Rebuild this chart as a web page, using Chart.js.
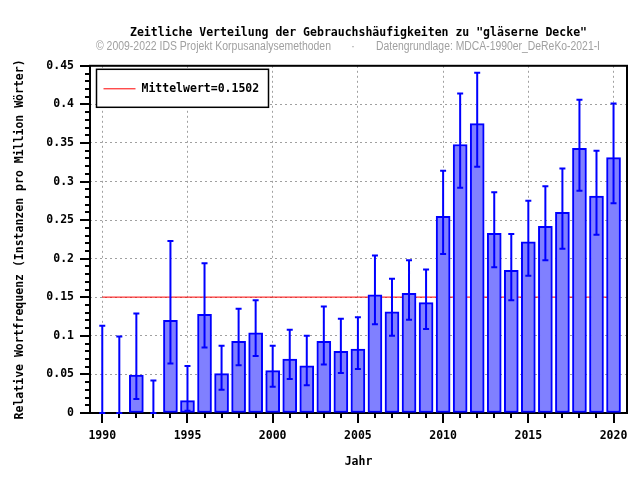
<!DOCTYPE html>
<html>
<head>
<meta charset="utf-8">
<script src="https://cdn.jsdelivr.net/npm/chart.js@4/dist/chart.umd.min.js"></script>
<style>
  html, body { margin: 0; padding: 0; background: #fff; }
  #wrap { width: 640px; height: 480px; }
</style>
</head>
<body>
<div id="wrap"><canvas id="chart" width="640" height="480"></canvas></div>
<script>
const years = [1990, 1991, 1992, 1993, 1994, 1995, 1996, 1997, 1998, 1999,
  2000, 2001, 2002, 2003, 2004, 2005, 2006, 2007, 2008, 2009,
  2010, 2011, 2012, 2013, 2014, 2015, 2016, 2017, 2018, 2019, 2020];
const frequency = [0, 0, 0.049, 0, 0.120, 0.016, 0.128, 0.051, 0.093, 0.104,
  0.055, 0.070, 0.061, 0.093, 0.080, 0.083, 0.153, 0.131, 0.155, 0.143,
  0.255, 0.348, 0.375, 0.233, 0.185, 0.222, 0.242, 0.260, 0.343, 0.281, 0.331];
const upperBound = [0.113, 0.099, 0.129, 0.042, 0.223, 0.061, 0.194, 0.087, 0.135, 0.146,
  0.087, 0.108, 0.100, 0.138, 0.122, 0.124, 0.204, 0.174, 0.198, 0.186,
  0.314, 0.414, 0.441, 0.286, 0.232, 0.275, 0.294, 0.317, 0.406, 0.340, 0.401];
const lowerBound = [0, 0, 0.018, 0, 0.064, 0.003, 0.085, 0.030, 0.062, 0.074,
  0.034, 0.044, 0.036, 0.063, 0.052, 0.057, 0.115, 0.100, 0.121, 0.109,
  0.206, 0.292, 0.319, 0.189, 0.146, 0.178, 0.198, 0.213, 0.288, 0.231, 0.272];
const meanValue = 0.1502;
const xTickYears = [1990, 1995, 2000, 2005, 2010, 2015, 2020];
const yTickValues = [0, 0.05, 0.1, 0.15, 0.2, 0.25, 0.3, 0.35, 0.4, 0.45];

const MONO = '"DejaVu Sans Mono", "Liberation Mono", monospace';
const NARROW = '"Liberation Sans Narrow", "Liberation Sans", sans-serif';
const BLUE = "#0000ff";

// squeeze a string horizontally into a given width (no narrow font installed)
function fillNarrow(ctx, text, x, y, width) {
  const w = ctx.measureText(text).width;
  ctx.save();
  ctx.translate(x, y);
  ctx.scale(Math.min(1, width / w), 1);
  ctx.fillText(text, 0, 0);
  ctx.restore();
}

// frame + gnuplot style tick marks (major and minor), drawn under the bars
const frameTicks = {
  id: "frameTicks",
  beforeDatasetsDraw(chart) {
    const { ctx, chartArea: a, scales } = chart;
    ctx.save();
    ctx.setLineDash([]);
    ctx.strokeStyle = "#000";
    ctx.lineWidth = 2;
    ctx.strokeRect(a.left, a.top, a.right - a.left, a.bottom - a.top);

    ctx.beginPath();
    years.forEach((yr) => {
      const x = Math.round(scales.x.getPixelForValue(yr));
      const len = xTickYears.includes(yr) ? 10 : 5;
      ctx.moveTo(x, a.bottom);
      ctx.lineTo(x, a.bottom + len);
    });
    for (let i = 0; i <= 45; i++) {
      const y = Math.round(scales.y.getPixelForValue(i / 100));
      const len = i % 5 === 0 ? 10 : 5;
      ctx.moveTo(a.left - len, y);
      ctx.lineTo(a.left, y);
    }
    ctx.stroke();
    ctx.restore();
  },
  afterDatasetsDraw(chart) {
    const { ctx, chartArea: a, scales } = chart;
    ctx.save();
    ctx.strokeStyle = BLUE;
    ctx.lineWidth = 2;
    ctx.beginPath();
    years.forEach((yr, i) => {
      const x = scales.x.getPixelForValue(yr);
      const yHi = scales.y.getPixelForValue(upperBound[i]);
      const yLo = scales.y.getPixelForValue(lowerBound[i]);
      ctx.moveTo(x, yLo);
      ctx.lineTo(x, yHi);
      ctx.moveTo(x - 3, yHi);
      ctx.lineTo(x + 3, yHi);
      ctx.moveTo(x - 3, yLo);
      ctx.lineTo(x + 3, yLo);
    });
    ctx.stroke();

    // legend box
    const lx = a.left + 6.5;
    const ly = a.top + 3.5;
    ctx.fillStyle = "#fff";
    ctx.fillRect(lx, ly, 172, 38);
    ctx.strokeStyle = "#000";
    ctx.lineWidth = 1.5;
    ctx.strokeRect(lx, ly, 172, 38);
    ctx.strokeStyle = "#ff0000";
    ctx.lineWidth = 1;
    ctx.beginPath();
    ctx.moveTo(lx + 7, ly + 19.5);
    ctx.lineTo(lx + 39, ly + 19.5);
    ctx.stroke();
    ctx.fillStyle = "#000";
    ctx.font = "bold 11.5px " + MONO;
    ctx.textBaseline = "middle";
    ctx.fillText(chart.data.datasets[1].label, lx + 45, ly + 19.5);
    ctx.restore();
  },
  afterDraw(chart) {
    const { ctx } = chart;
    ctx.save();
    ctx.fillStyle = "#a0a0a0";
    ctx.font = "12px " + NARROW;
    ctx.textBaseline = "middle";
    fillNarrow(ctx, "\u00a9 2009-2022 IDS Projekt Korpusanalysemethoden", 96, 46.5, 235);
    ctx.fillText("\u00b7", 351, 46.5);
    fillNarrow(ctx, "Datengrundlage: MDCA-1990er_DeReKo-2021-I", 376, 46.5, 224);
    ctx.restore();
  },
};

new Chart(document.getElementById("chart"), {
  type: "bar",
  data: {
    datasets: [
      {
        type: "bar",
        data: years.map((yr, i) => ({ x: yr, y: frequency[i] })),
        backgroundColor: "#8080ff",
        borderColor: BLUE,
        borderWidth: 2,
        borderSkipped: false,
        barThickness: 14,
        order: 1,
      },
      {
        type: "line",
        label: "Mittelwert=" + meanValue.toFixed(4),
        data: [{ x: years[0], y: meanValue }, { x: years[years.length - 1], y: meanValue }],
        borderColor: "#ff0000",
        borderWidth: 1,
        pointRadius: 0,
        fill: false,
        order: 2,
      },
    ],
  },
  options: {
    responsive: false,
    animation: false,
    layout: { padding: { left: 0, right: 13, top: 0, bottom: 0 } },
    plugins: {
      legend: { display: false },
      tooltip: { enabled: false },
      title: {
        display: true,
        fullSize: false,
        text: 'Zeitliche Verteilung der Gebrauchshäufigkeiten zu "gläserne Decke"',
        color: "#000",
        font: { family: MONO, size: 11.5, weight: "bold" },
        padding: { top: 26, bottom: 26 },
      },
    },
    scales: {
      x: {
        type: "linear",
        offset: false,
        min: 1989.28,
        max: 2020.79,
        afterBuildTicks: (s) => { s.ticks = xTickYears.map((v) => ({ value: v })); },
        afterFit: (s) => {
          s.height = 67;
          s.paddingLeft = 0;
          s.paddingRight = 0;
        },
        ticks: {
          color: "#000",
          font: { family: MONO, size: 11.5, weight: "bold" },
          padding: 16,
          maxRotation: 0,
          callback: (v) => String(v),
        },
        grid: { offset: false, drawTicks: false, color: "#a0a0a0", lineWidth: 1 },
        border: { display: false, dash: [2, 3] },
        title: {
          display: true,
          text: "Jahr",
          color: "#000",
          font: { family: MONO, size: 11.5, weight: "bold" },
          padding: { top: 0, bottom: 11 },
        },
      },
      y: {
        min: 0,
        max: 0.45,
        afterBuildTicks: (s) => { s.ticks = yTickValues.map((v) => ({ value: v })); },
        afterFit: (s) => { s.width = 90; },
        ticks: {
          color: "#000",
          font: { family: MONO, size: 11.5, weight: "bold" },
          padding: 16,
          callback: (v) => String(Number(v.toFixed(2))),
        },
        grid: { drawTicks: false, color: "#a0a0a0", lineWidth: 1 },
        border: { display: false, dash: [2, 3] },
        title: {
          display: true,
          text: "Relative Wortfrequenz (Instanzen pro Million Wörter)",
          color: "#000",
          font: { family: MONO, size: 11.5, weight: "bold" },
          padding: { top: 13, bottom: 0 },
        },
      },
    },
  },
  plugins: [frameTicks],
});
</script>
</body>
</html>
